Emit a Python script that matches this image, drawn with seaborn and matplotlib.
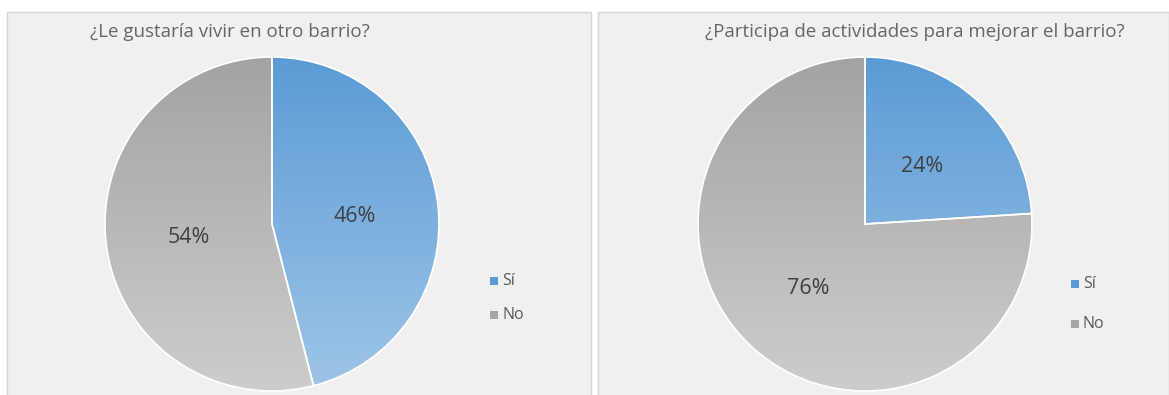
import numpy as np
import matplotlib
matplotlib.use("Agg")
import matplotlib.pyplot as plt
import seaborn as sns
from matplotlib.patches import Rectangle
from matplotlib.colors import LinearSegmentedColormap

sns.set_theme(style="white")
plt.rcParams['font.family'] = ['Open Sans', 'DejaVu Sans']

# Data
titles = ["¿Le gustaría vivir en otro barrio?", "¿Participa de actividades para mejorar el barrio?"]
categories = ["Sí", "No"]
values_barrio = [46, 54]
values_particip = [24, 76]
series = [values_barrio, values_particip]

W, H = 1169, 395
fig = plt.figure(figsize=(W / 100, H / 100), dpi=100)
fig.patch.set_facecolor("white")

def fx(px):
    return px / W

def fy(py):
    return 1 - py / H

# panels
panels = [(7, 12, 584, 390), (598, 12, 571, 390)]
for (x, y, w, h) in panels:
    fig.patches.append(Rectangle((fx(x), fy(y + h)), w / W, h / H, transform=fig.transFigure,
                                 facecolor="#f0f0f0", edgecolor="#d6d6d6", linewidth=1, zorder=-5))

blue_cmap = LinearSegmentedColormap.from_list("b", ["#9fc5e8", "#5b9bd5"])
gray_cmap = LinearSegmentedColormap.from_list("g", ["#cdcdcd", "#a3a3a3"])
cmaps = [blue_cmap, gray_cmap]
solid = ["#5b9bd5", "#a5a5a5"]

centers = [(272, 224), (865, 224)]
R = 167
title_pos = [(230, 32), (915, 32)]
legend_pos = [(494, 281, 34), (1075, 284, 40)]

grad = np.linspace(0, 1, 256).reshape(-1, 1)

for i, (cx, cy) in enumerate(centers):
    ax = fig.add_axes([fx(cx - R), fy(cy + R), 2 * R / W, 2 * R / H])
    ax.set_facecolor("none")
    wedges, texts = ax.pie(series[i], startangle=90, counterclock=False, radius=1,
                           colors=solid, wedgeprops=dict(edgecolor="white", linewidth=1.2))
    for j, wdg in enumerate(wedges):
        im = ax.imshow(grad, extent=[-1, 1, -1, 1], origin="lower", cmap=cmaps[j],
                       aspect="auto", zorder=1)
        im.set_clip_path(wdg)
        wdg.set_zorder(2)
        wdg.set_facecolor("none")
    # labels
    start = 90
    for j, v in enumerate(series[i]):
        ang = np.deg2rad(start - 360 * v / 100 / 2)
        start -= 360 * v / 100
        r = 0.5
        ax.text(r * np.cos(ang), r * np.sin(ang) - 0.02, f"{v}%", ha="center", va="center",
                fontsize=15.5, color="#404040", zorder=5)
    ax.set_xlim(-1.0, 1.0)
    ax.set_ylim(-1.0, 1.0)
    ax.set_aspect("auto")
    ax.axis("off")

    tx, ty = title_pos[i]
    fig.text(fx(tx), fy(ty), titles[i], ha="center", va="center", fontsize=13.5, color="#666666")

    lx, ly, gap = legend_pos[i]
    for k, cat in enumerate(categories):
        yy = ly + k * gap
        fig.patches.append(Rectangle((fx(lx - 4), fy(yy + 4)), 8 / W, 8 / H, transform=fig.transFigure,
                                     facecolor=solid[k], edgecolor="none"))
        fig.text(fx(lx + 8), fy(yy), cat, ha="left", va="center", fontsize=11.5, color="#595959")

fig.savefig("out.png", dpi=100)
